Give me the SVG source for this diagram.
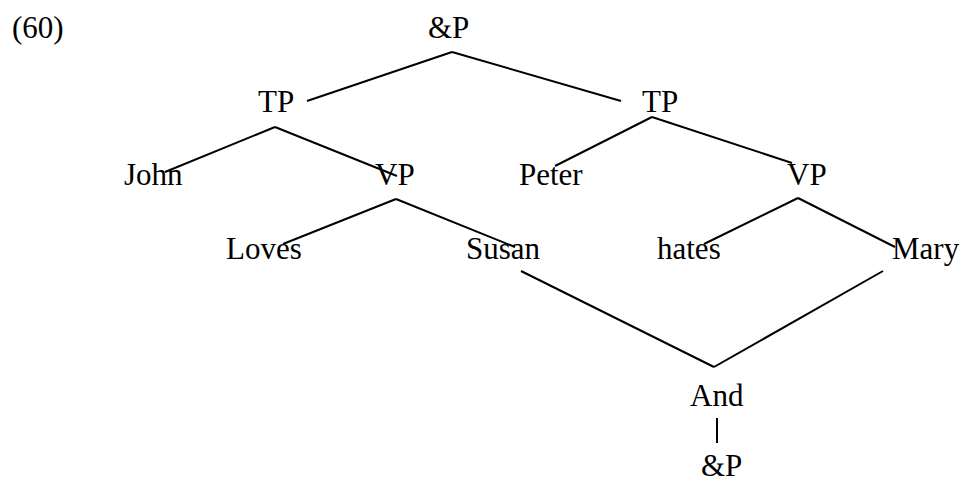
<svg xmlns="http://www.w3.org/2000/svg" width="962" height="482" viewBox="0 0 962 482">
<style>
text{font-family:"Liberation Serif","Times New Roman",serif;font-size:31px;fill:#000}
.e line{stroke:#000;stroke-width:2;stroke-linecap:butt}
</style>
<rect width="962" height="482" fill="#fff"/>
<text x="12" y="38">(60)</text>
<g class="e" id="connectors">
<line x1="452" y1="52" x2="307" y2="101"/>
<line x1="452" y1="52" x2="621" y2="101"/>
<line x1="275" y1="127" x2="165" y2="172"/>
<line x1="275" y1="127" x2="397" y2="176"/>
<line x1="652" y1="117" x2="555" y2="166"/>
<line x1="652" y1="117" x2="792" y2="163"/>
<line x1="396" y1="199" x2="283" y2="244"/>
<line x1="396" y1="199" x2="515" y2="247"/>
<line x1="798" y1="198" x2="704" y2="244"/>
<line x1="798" y1="198" x2="895" y2="247"/>
<line x1="521" y1="271" x2="714" y2="367"/>
<line x1="883" y1="271" x2="714" y2="367"/>
<line x1="717" y1="418" x2="717" y2="443"/>
</g>
<g id="n-root"><text x="428" y="38">&amp;P</text></g>
<g id="n-tp1"><text x="258" y="112">TP</text></g>
<g id="n-tp2"><text x="642" y="112">TP</text></g>
<g id="n-john"><text x="124" y="185">John</text></g>
<g id="n-vp1"><text x="375" y="185">VP</text></g>
<g id="n-peter"><text x="519" y="185">Peter</text></g>
<g id="n-vp2"><text x="787" y="185">VP</text></g>
<g id="n-loves"><text x="226" y="259">Loves</text></g>
<g id="n-susan"><text x="466" y="259">Susan</text></g>
<g id="n-hates"><text x="657" y="259">hates</text></g>
<g id="n-mary"><text x="892" y="259">Mary</text></g>
<g id="n-and"><text x="690" y="406">And</text></g>
<g id="n-andp"><text x="701" y="476">&amp;P</text></g>
</svg>
